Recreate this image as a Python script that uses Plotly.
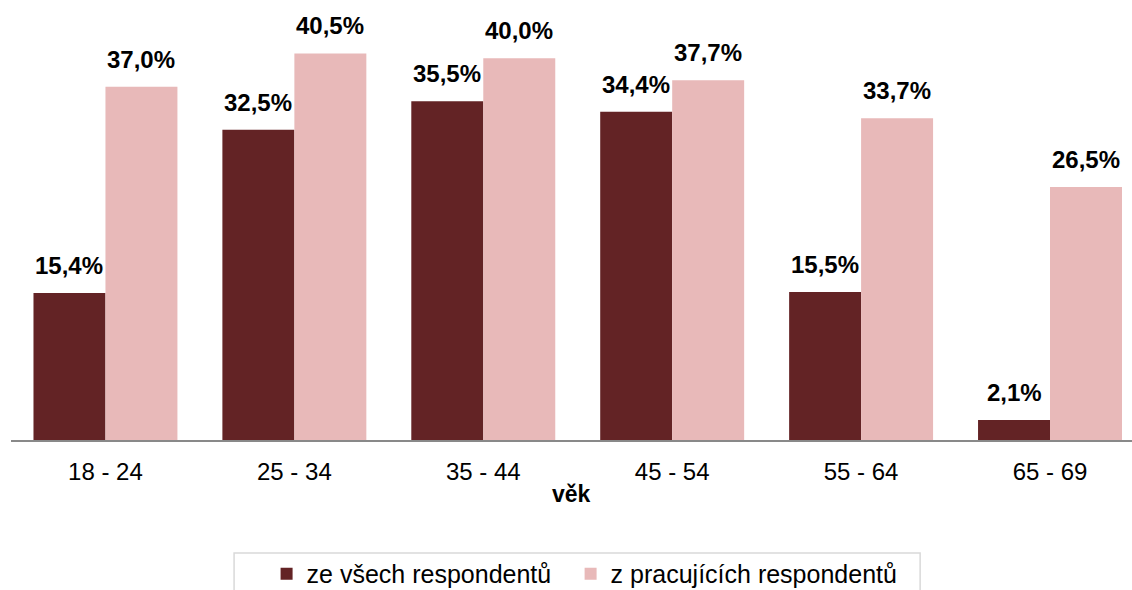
import plotly.graph_objects as go

categories = ["18 - 24", "25 - 34", "35 - 44", "45 - 54", "55 - 64", "65 - 69"]
vse = [15.4, 32.5, 35.5, 34.4, 15.5, 2.1]
pracujici = [37.0, 40.5, 40.0, 37.7, 33.7, 26.5]
series_names = ["ze všech respondentů", "z pracujících respondentů"]
colors = ["#632325", "#E8B9B9"]

FONT = "Liberation Sans, Arial, sans-serif"
bargap = 0.238

def fmt(v):
    return f"{v:.1f}".replace(".", ",") + "%"

fig = go.Figure()
for name, vals, col, leg in zip(series_names, [vse, pracujici], colors, ["legend", "legend2"]):
    fig.add_trace(go.Bar(x=categories, y=vals, name=name, legend=leg,
                         marker=dict(color=col, line=dict(width=0))))

half = (1 - bargap) / 4
for k, vals in enumerate([vse, pracujici]):
    off = -half if k == 0 else half
    for i, v in enumerate(vals):
        fig.add_annotation(x=i + off, y=v, xref="x", yref="y", text="<b>" + fmt(v) + "</b>",
                           showarrow=False, yanchor="bottom", yshift=12,
                           font=dict(family=FONT, size=24, color="#000000"))

fig.add_annotation(x=0.4996, y=-0.122, xref="paper", yref="paper", text="<b>věk</b>",
                   showarrow=False, yanchor="middle",
                   font=dict(family=FONT, size=23, color="#000000"))

# legend frame
fig.add_shape(type="rect", xref="paper", yref="paper", x0=0.199, x1=0.811, y0=-0.257, y1=-0.40,
              line=dict(color="#D9D9D9", width=1.5), fillcolor="rgba(0,0,0,0)")

leg_common = dict(orientation="h", xanchor="left", y=-0.252, yanchor="top",
                  borderwidth=0, bgcolor="rgba(0,0,0,0)",
                  font=dict(family=FONT, size=25, color="#000000"), itemwidth=30)

fig.update_layout(
    width=1132, height=590,
    margin=dict(l=11, r=0, t=0, b=150, autoexpand=False),
    plot_bgcolor="white", paper_bgcolor="white",
    barmode="group", bargap=bargap, bargroupgap=0,
    font=dict(family=FONT, size=22, color="#000000"),
    xaxis=dict(range=[-0.5, 5.434], showline=True, linecolor="#898989", linewidth=2,
               ticks="", showgrid=False, ticklabelstandoff=9, automargin=False,
               tickfont=dict(family=FONT, size=24, color="#000000")),
    yaxis=dict(range=[0, 46.1], visible=False, showgrid=False, automargin=False),
    legend=dict(x=0.228, **leg_common),
    legend2=dict(x=0.4992, **leg_common),
    showlegend=True,
)

fig.write_html("out.html", config={"displayModeBar": False},
               post_script="document.body.style.margin='0';document.body.style.padding='0';document.body.style.overflow='hidden';")
